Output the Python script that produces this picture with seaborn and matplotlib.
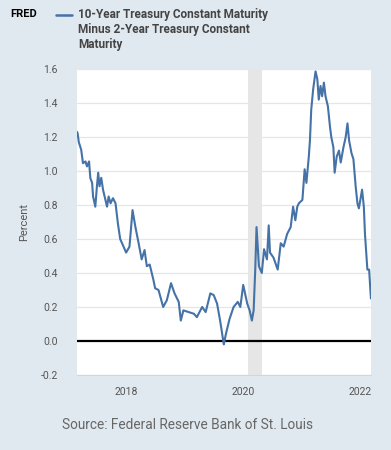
import pandas as pd
import numpy as np
import matplotlib.pyplot as plt
import seaborn as sns

# %%
# 10-year minus 2-year treasury spread

dates = [
    "2017-03-01", "2017-03-05", "2017-03-12", "2017-03-27", "2017-04-07", "2017-04-23",
    "2017-05-02", "2017-05-15", "2017-05-23", "2017-06-03", "2017-06-09", "2017-06-23",
    "2017-07-03", "2017-07-11", "2017-07-19", "2017-07-30", "2017-08-10", "2017-08-20",
    "2017-09-04", "2017-09-14", "2017-09-26", "2017-10-11", "2017-10-27", "2017-11-11",
    "2017-11-25", "2017-12-16",
    "2018-01-01", "2018-01-22", "2018-02-10", "2018-02-28", "2018-03-20", "2018-04-08",
    "2018-04-26", "2018-05-10", "2018-05-28", "2018-06-20", "2018-07-01", "2018-07-22",
    "2018-08-20", "2018-09-12", "2018-10-08", "2018-10-30", "2018-11-25", "2018-12-08",
    "2018-12-24", "2019-01-26", "2019-02-28", "2019-03-18", "2019-04-20", "2019-05-12",
    "2019-06-10", "2019-07-01", "2019-07-22", "2019-08-10", "2019-08-28", "2019-09-02",
    "2019-09-16", "2019-10-08", "2019-11-02", "2019-11-28", "2019-12-14", "2020-01-01",
    "2020-01-26", "2020-02-10", "2020-02-24", "2020-03-06", "2020-03-16", "2020-03-24",
    "2020-04-08", "2020-04-26", "2020-05-10", "2020-05-28", "2020-06-08", "2020-06-16",
    "2020-07-08", "2020-08-03", "2020-08-22", "2020-09-09", "2020-10-01", "2020-10-23",
    "2020-11-07", "2020-11-21", "2020-12-03", "2020-12-13", "2021-01-04", "2021-01-18",
    "2021-01-29", "2021-02-13", "2021-02-20", "2021-02-28", "2021-03-12", "2021-03-27",
    "2021-04-07", "2021-04-16", "2021-04-27", "2021-05-07", "2021-05-18", "2021-05-28",
    "2021-06-12", "2021-06-25", "2021-07-03", "2021-07-16", "2021-07-24", "2021-08-06",
    "2021-08-20", "2021-08-31", "2021-09-17", "2021-10-01", "2021-10-12", "2021-10-22",
    "2021-11-06", "2021-11-18", "2021-12-02", "2021-12-13", "2021-12-22", "2022-01-11",
    "2022-01-22", "2022-01-29", "2022-02-13", "2022-02-24", "2022-03-07",
]

spread = [
    1.23, 1.22, 1.17, 1.125, 1.046, 1.056,
    1.027, 1.056, 0.958, 0.93, 0.85, 0.79,
    0.91, 0.99, 0.91, 0.96, 0.89, 0.85,
    0.79, 0.85, 0.81, 0.84, 0.81, 0.69,
    0.60, 0.555,
    0.52, 0.555, 0.77, 0.67, 0.575, 0.48,
    0.535, 0.44, 0.45, 0.36, 0.31, 0.30,
    0.20, 0.24, 0.34, 0.28, 0.23, 0.12,
    0.18, 0.17, 0.16, 0.14, 0.20, 0.17,
    0.28, 0.27, 0.22, 0.12, 0.01, -0.02,
    0.045, 0.13, 0.20, 0.23, 0.20, 0.33,
    0.22, 0.18, 0.12, 0.18, 0.42, 0.67,
    0.44, 0.40, 0.54, 0.48, 0.68, 0.52,
    0.49, 0.42, 0.575, 0.555, 0.63, 0.67,
    0.79, 0.71, 0.79, 0.81, 0.83, 1.01,
    0.93, 1.085, 1.18, 1.36, 1.48, 1.586,
    1.54, 1.42, 1.50, 1.44, 1.52, 1.44,
    1.38, 1.26, 1.20, 1.14, 0.99, 1.085,
    1.12, 1.05, 1.14, 1.20, 1.28, 1.18,
    1.105, 1.07, 0.91, 0.81, 0.78, 0.89,
    0.79, 0.63, 0.42, 0.42, 0.25,
]

recession = ["2020-02-01", "2020-04-30"]

y_ticks = [-0.2, 0.0, 0.2, 0.4, 0.6, 0.8, 1.0, 1.2, 1.4, 1.6]
x_ticks = ["2018-01-01", "2020-01-01", "2022-01-01"]
x_labels = ["2018", "2020", "2022"]

legend_label = "10-Year Treasury Constant Maturity\nMinus 2-Year Treasury Constant\nMaturity"

# %%
df = pd.DataFrame({"date": pd.to_datetime(dates), "spread": spread})

sns.set_style("white")
plt.rcParams["font.family"] = ["Roboto", "DejaVu Sans"]

bg = "#e1e9f0"
fig = plt.figure(figsize=(3.91, 4.5), dpi=100, facecolor=bg)
ax = fig.add_axes([0.197, 0.1667, 0.752, 0.68])
ax.set_facecolor("white")

# recession shading
ax.axvspan(pd.Timestamp(recession[0]), pd.Timestamp(recession[1]), color="#e6e6e6", lw=0, zorder=0)

# gridlines
for t in y_ticks:
    if t != 0.0:
        ax.axhline(t, color="#e6e6e6", lw=0.9, zorder=1)
ax.axhline(0.0, color="black", lw=1.6, zorder=2)

sns.lineplot(data=df, x="date", y="spread", color="#4572a7", lw=1.5, ax=ax, zorder=3)

ax.set_xlim(pd.Timestamp("2017-03-01"), pd.Timestamp("2022-03-08"))
ax.set_ylim(-0.2, 1.6)
ax.set_yticks(y_ticks)
ax.set_yticklabels([f"{t:.1f}" for t in y_ticks])
ax.set_xticks(pd.to_datetime(x_ticks))
ax.set_xticklabels(x_labels)

for s in ["top", "right", "left"]:
    ax.spines[s].set_visible(False)
ax.spines["bottom"].set_color("#ccd6eb")
ax.spines["bottom"].set_linewidth(0.8)

ax.tick_params(axis="y", length=0, pad=14, labelsize=7.5, labelcolor="#555555")
ax.tick_params(axis="x", length=7, width=0.8, color="#ccd6eb", pad=2, labelsize=7.5, labelcolor="#555555")
ax.set_xlabel("")
ax.set_ylabel("Percent", fontsize=8, color="#555555", labelpad=8)

# header: logo and legend
fig.text(10 / 391, 1 - 14 / 450, "FRED", fontsize=8, fontweight="bold", color="black", va="center")
fig.add_artist(plt.Line2D([56 / 391, 72 / 391], [1 - 15 / 450, 1 - 15 / 450], color="#4572a7", lw=1.8))
fig.text(78 / 391, 1 - 8 / 450, legend_label, fontsize=8.5, fontweight="bold", color="#444444",
         va="top", linespacing=1.22)

# source note
fig.text(62 / 391, 1 - 425 / 450, "Source: Federal Reserve Bank of St. Louis", fontsize=9.8,
         color="#666666", va="center")

plt.savefig("out.png", dpi=100, facecolor=bg)
